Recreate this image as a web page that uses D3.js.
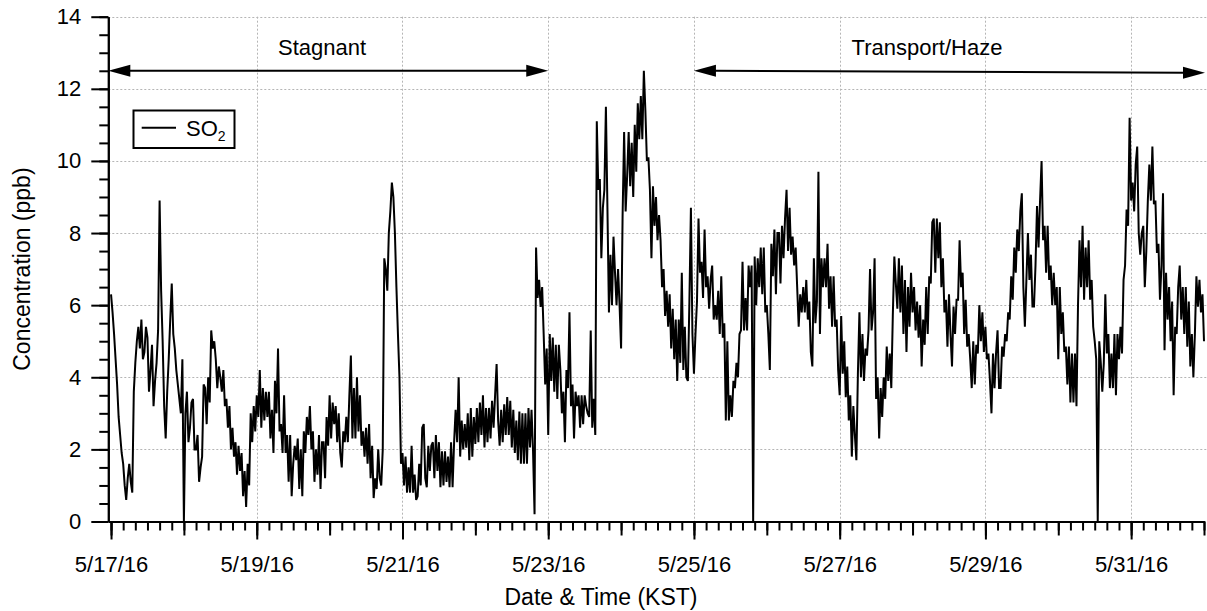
<!DOCTYPE html>
<html>
<head>
<meta charset="utf-8">
<script src="https://cdn.jsdelivr.net/npm/d3@7"></script>
<style>
  html, body { margin: 0; padding: 0; background: #fff; }
  svg text { font-family: "Liberation Sans", Arial, Helvetica, sans-serif; fill: #000; }
</style>
</head>
<body>
<svg id="chart" width="1207" height="611"></svg>
<script>
// SO2 record (ppb), first sample 2016-05-17 00:00 KST.
// Readings on the hour and on the half hour are kept in two lists.
const seriesStart = Date.UTC(2016, 4, 17, 0, 0);

const so2OnHour = [
  6.3, 5.2, 3.8, 2.4, 1.6, 0.6, 1.6, 0.8, 4.4, 5.4,
  5.6, 4.7, 5.1, 4.2, 3.2, 4.4, 8.9, 5.0, 2.3, 4.5,
  6.6, 4.8, 3.8, 3.0, 0.0, 3.6, 2.6, 3.4, 2.0, 1.1,
  1.8, 3.7, 4.0, 5.3, 5.0, 3.7, 4.0, 4.2, 3.4, 3.2,
  2.6, 2.2, 2.1, 1.9, 1.4, 1.6, 3.0, 3.2, 3.5, 4.2,
  3.7, 3.6, 3.6, 3.1, 3.9, 4.8, 2.7, 3.5, 2.4, 2.4,
  1.6, 1.7, 0.9, 0.7, 1.9, 2.4, 2.0, 1.1, 1.3, 0.9,
  2.2, 2.9, 3.5, 3.3, 3.2, 3.0, 1.5, 2.2, 2.2, 4.6,
  3.7, 4.0, 3.5, 2.5, 2.6, 2.7, 2.1, 1.2, 2.0, 1.0,
  7.3, 6.4, 8.6, 9.0, 6.5, 4.0, 1.9, 1.8, 1.5, 2.1,
  1.3, 0.7, 1.0, 2.7, 0.95, 1.4, 2.2, 2.4, 2.2, 1.95,
  1.95, 1.8, 2.2, 2.2, 2.2, 1.8, 2.0, 2.05, 1.7, 1.8,
  2.15, 2.2, 2.4, 2.05, 2.2, 2.3, 2.6, 4.37, 2.1, 2.2,
  2.4, 2.4, 2.05, 1.9, 1.7, 1.6, 1.6, 1.6, 2.05, 1.95,
  7.6, 6.7, 6.5, 3.8, 2.4, 3.9, 3.6, 3.4, 4.2, 3.6,
  4.2, 5.8, 3.8, 3.6, 3.5, 3.5, 3.5, 3.0, 5.3, 3.4,
  11.1, 9.5, 8.7, 11.5, 5.8, 6.0, 6.9, 7.0, 4.8, 10.8,
  9.6, 9.3, 9.0, 9.7, 10.6, 10.6, 11.4, 10.1, 7.3, 8.2,
  7.8, 7.8, 7.0, 6.4, 6.3, 5.9, 5.6, 5.6, 6.9, 5.4,
  3.9, 8.7, 4.1, 6.1, 6.9, 6.2, 6.5, 5.9, 7.1, 6.0,
  6.4, 6.8, 5.5, 5.0, 3.5, 3.9, 4.4, 5.2, 7.2, 6.2,
  7.1, 7.1, 7.35, 7.3, 7.6, 7.6, 6.0, 4.2, 6.8, 6.3,
  8.0, 8.2, 8.4, 7.5, 7.4, 7.1, 6.5, 6.3, 6.5, 6.7,
  6.1, 4.3, 5.5, 9.7, 7.3, 7.3, 7.7, 6.8, 6.8, 5.6,
  3.5, 4.1, 3.45, 2.8, 1.8, 2.4, 4.1, 4.0, 3.9, 4.6,
  7.0, 5.8, 3.4, 2.3, 2.9, 3.4, 3.9, 3.7, 7.35, 5.9,
  5.8, 5.2, 4.7, 5.4, 5.8, 5.3, 5.1, 4.3, 4.9, 5.2,
  6.6, 8.4, 8.4, 8.3, 7.3, 6.15, 6.3, 4.3, 5.2, 6.15,
  6.5, 5.2, 4.85, 4.5, 5.0, 4.9, 6.0, 5.8, 5.4, 4.66,
  3.0, 3.7, 5.3, 3.7, 4.57, 5.0, 5.6, 6.15, 6.9, 7.5,
  9.1, 5.4, 8.0, 7.4, 5.96, 8.75, 8.9, 7.8, 6.9, 6.7,
  6.0, 6.0, 4.5, 5.2, 4.7, 3.8, 3.3, 3.3, 3.2, 7.8,
  8.2, 7.6, 7.8, 6.7, 5.0, 0.0, 4.4, 4.4, 4.66, 3.7,
  3.7, 3.5, 4.5, 4.66, 7.1, 8.2, 8.9, 8.6, 10.4, 7.4,
  8.2, 7.5, 9.9, 10.4, 8.9, 7.7, 7.1, 4.75, 5.6, 5.0,
  3.5, 5.2, 7.1, 6.5, 6.5, 6.1, 5.2, 5.2, 5.96, 5.8,
  5.0
];

const so2HalfHour = [
  5.8, 4.5, 2.9, 1.9, 1.0, 1.2, 1.1, 3.6, 5.0, 4.8,
  4.5, 5.4, 3.6, 4.9, 3.9, 5.3, 6.4, 3.2, 3.6, 5.6,
  5.2, 4.2, 3.4, 4.5, 3.0, 2.2, 3.3, 2.0, 2.4, 1.5,
  3.8, 2.7, 3.3, 4.8, 4.5, 4.3, 3.6, 3.2, 2.6, 2.0,
  1.8, 1.3, 1.4, 0.7, 0.4, 1.0, 2.2, 2.5, 2.9, 2.6,
  2.8, 2.9, 2.3, 1.9, 3.0, 2.5, 1.9, 1.9, 1.1, 0.7,
  2.1, 2.3, 2.0, 2.5, 2.9, 3.2, 2.5, 2.0, 2.4, 2.2,
  1.2, 2.1, 2.3, 2.7, 2.2, 1.9, 2.5, 2.9, 3.5, 2.3,
  2.3, 2.5, 2.1, 1.8, 1.6, 1.2, 0.65, 0.9, 1.2, 2.0,
  7.0, 8.0, 9.4, 8.0, 5.2, 1.6, 1.0, 0.8, 0.8, 0.8,
  0.6, 1.6, 2.6, 1.2, 2.1, 2.1, 1.2, 1.4, 0.95, 1.0,
  1.1, 0.95, 0.95, 3.1, 4.0, 2.8, 2.7, 3.0, 3.15, 2.9,
  3.15, 3.3, 3.5, 3.15, 3.15, 3.35, 3.5, 2.8, 3.1, 3.25,
  3.45, 3.35, 3.1, 2.8, 3.05, 3.0, 3.0, 3.15, 3.1, 0.2,
  6.2, 5.95, 5.2, 4.8, 5.2, 5.1, 4.9, 4.9, 3.0, 2.2,
  3.7, 3.2, 2.3, 3.2, 2.6, 2.7, 3.2, 2.9, 2.6, 2.4,
  9.2, 7.3, 9.2, 8.7, 7.4, 7.9, 6.0, 6.0, 8.5, 8.6,
  10.8, 10.5, 11.0, 11.6, 11.8, 12.5, 10.0, 9.2, 9.3, 9.0,
  8.5, 6.5, 5.7, 5.4, 4.8, 4.5, 3.9, 4.4, 4.2, 4.0,
  6.1, 5.2, 5.2, 8.4, 7.2, 8.1, 6.8, 6.7, 5.6, 5.6,
  5.2, 5.1, 2.8, 2.8, 2.9, 3.7, 4.0, 5.3, 5.3, 5.3,
  6.5, 0.0, 6.0, 6.5, 6.3, 5.8, 5.2, 7.7, 8.1, 8.0,
  6.6, 7.3, 9.2, 8.7, 7.9, 7.6, 5.4, 5.8, 5.8, 5.6,
  4.7, 7.3, 6.1, 5.2, 6.5, 6.5, 5.9, 5.4, 5.4, 4.2,
  5.7, 5.0, 4.3, 3.5, 3.2, 1.7, 5.8, 5.2, 4.8, 5.3,
  5.3, 7.3, 4.0, 3.7, 4.0, 4.85, 4.66, 5.7, 6.6, 7.3,
  7.1, 6.7, 6.5, 6.9, 6.5, 6.1, 6.0, 5.6, 6.5, 6.8,
  8.3, 6.9, 7.3, 6.5, 5.8, 4.85, 5.2, 5.96, 6.15, 7.8,
  6.9, 6.15, 5.2, 3.7, 3.8, 4.66, 5.0, 4.7, 4.5, 3.9,
  4.66, 4.66, 3.7, 4.85, 5.2, 5.8, 6.8, 7.6, 8.1, 8.6,
  6.5, 6.7, 6.7, 5.96, 7.1, 7.6, 10.0, 8.2, 8.2, 7.1,
  6.9, 6.5, 6.5, 5.8, 4.85, 4.85, 4.66, 4.66, 6.0, 6.5,
  6.15, 6.5, 6.15, 5.4, 4.5, 5.0, 3.6, 6.3, 5.2, 4.66,
  5.2, 5.2, 5.4, 6.7, 8.65, 11.2, 9.4, 9.9, 8.0, 8.0,
  6.5, 8.9, 8.9, 8.8, 7.45, 6.15, 9.1, 6.9, 6.5, 6.1,
  5.4, 6.5, 5.6, 5.2, 4.85, 4.3, 4.0, 6.8, 6.7, 6.3
];

// Axis ticks
const yTicks = [0, 2, 4, 6, 8, 10, 12, 14];
const xLabelDays = ["2016-05-17", "2016-05-19", "2016-05-21", "2016-05-23",
                    "2016-05-25", "2016-05-27", "2016-05-29", "2016-05-31"];

// Meteorological periods marked with double arrows
const periodLabels = ["Stagnant", "Transport/Haze"];
const periodStarts = [null, "2016-05-25"];   // null: from the start of the axis
const periodEnds   = ["2016-05-23", null];   // null: to the end of the axis
const periodLevel  = 12.5;

const legendLabel = "SO";
const legendSub = "2";

const parseDay = s => new Date(s + "T00:00:00Z");
const hour = 3600 * 1000;

const svg = d3.select("#chart");

const x = d3.scaleUtc()
  .domain([new Date(seriesStart - 0.9 * hour), new Date(seriesStart + 360 * hour)])
  .range([108.3, 1204]);
const y = d3.scaleLinear().domain([0, 14]).range([521.5, 16.7]);

const [x0, x1] = x.range();
const [yb, yt] = y.range();

// Dotted grid
const grid = svg.append("g")
  .attr("stroke", "#b5b5b5")
  .attr("stroke-width", 1)
  .attr("stroke-dasharray", "2,2");
grid.selectAll("line.h").data(yTicks.filter(v => v > 0)).join("line")
  .attr("x1", x0).attr("x2", 1207)
  .attr("y1", d => Math.round(y(d)) + 0.5).attr("y2", d => Math.round(y(d)) + 0.5);
grid.selectAll("line.v").data(xLabelDays.slice(1).map(parseDay)).join("line")
  .attr("x1", d => Math.round(x(d)) + 0.5).attr("x2", d => Math.round(x(d)) + 0.5)
  .attr("y1", yt).attr("y2", yb);

// Interleave hourly and half-hourly readings into one time series
const data = [];
so2OnHour.forEach((v, i) => {
  data.push({ t: new Date(seriesStart + i * hour), v });
  if (i < so2HalfHour.length) {
    data.push({ t: new Date(seriesStart + (i + 0.5) * hour), v: so2HalfHour[i] });
  }
});

const line = d3.line()
  .defined(d => d.v != null)
  .x(d => x(d.t))
  .y(d => y(d.v));
svg.append("path")
  .datum(data)
  .attr("fill", "none")
  .attr("stroke", "#000")
  .attr("stroke-width", 2)
  .attr("stroke-linejoin", "miter")
  .attr("stroke-miterlimit", 2)
  .attr("d", line);

// Axes
function styleAxis(g) {
  g.selectAll("path.domain").attr("stroke", "#000").attr("stroke-width", 2);
  g.selectAll(".tick line").attr("stroke", "#000").attr("stroke-width", 2);
  g.selectAll(".tick text").attr("font-size", 22).attr("fill", "#000")
    .attr("font-family", '"Liberation Sans", Arial, Helvetica, sans-serif');
}

// y minor ticks every 0.5 ppb
svg.append("g").attr("transform", `translate(${x0},0)`)
  .call(d3.axisLeft(y).tickValues(d3.range(0, 14.001, 0.5)).tickSize(9).tickSizeOuter(0).tickFormat(""))
  .call(styleAxis);
svg.append("g").attr("transform", `translate(${x0},0)`)
  .call(d3.axisLeft(y).tickValues(yTicks).tickSize(17).tickSizeOuter(0).tickPadding(10).tickFormat(d3.format("d")))
  .call(styleAxis);

// x ticks: 4-hour minor, daily medium, two-day labelled
const fmtDate = d => `${d.getUTCMonth() + 1}/${d.getUTCDate()}/${String(d.getUTCFullYear()).slice(2)}`;
const xEnd = x.domain()[1];
const fourHourly = d3.utcHour.every(4).range(new Date(seriesStart), new Date(+xEnd + 1));
const daily = d3.utcDay.range(new Date(seriesStart), new Date(+xEnd + 1));

svg.append("g").attr("transform", `translate(0,${yb})`)
  .call(d3.axisBottom(x).tickValues(fourHourly).tickSize(9).tickSizeOuter(0).tickFormat(""))
  .call(styleAxis);
svg.append("g").attr("transform", `translate(0,${yb})`)
  .call(d3.axisBottom(x).tickValues(daily).tickSize(14).tickSizeOuter(0).tickFormat(""))
  .call(styleAxis);
svg.append("g").attr("transform", `translate(0,${yb})`)
  .call(d3.axisBottom(x).tickValues(xLabelDays.map(parseDay)).tickSize(18).tickSizeOuter(0)
        .tickPadding(17).tickFormat(fmtDate))
  .call(styleAxis);

// Axis titles
svg.append("text")
  .attr("transform", `translate(30,${(yt + yb) / 2}) rotate(-90)`)
  .attr("text-anchor", "middle")
  .attr("font-size", 23)
  .text("Concentration (ppb)");
svg.append("text")
  .attr("x", 601).attr("y", 605)
  .attr("text-anchor", "middle")
  .attr("font-size", 23)
  .text("Date & Time (KST)");

// Period arrows
const headLen = 22, headHalf = 6;
periodLabels.forEach((label, i) => {
  const xa = periodStarts[i] ? x(parseDay(periodStarts[i])) : x0;
  const xb = periodEnds[i] ? x(parseDay(periodEnds[i])) : x1 + 1;
  const ya = y(periodLevel);
  const yb2 = i === 1 ? ya + 2 : ya;
  const g = svg.append("g");
  g.append("line")
    .attr("x1", xa + headLen - 2).attr("y1", ya)
    .attr("x2", xb - headLen + 2).attr("y2", yb2)
    .attr("stroke", "#000").attr("stroke-width", 2);
  g.append("path").attr("fill", "#000")
    .attr("d", `M${xa},${ya}L${xa + headLen},${ya - headHalf}L${xa + headLen},${ya + headHalf}Z`);
  g.append("path").attr("fill", "#000")
    .attr("d", `M${xb},${yb2}L${xb - headLen},${yb2 - headHalf}L${xb - headLen},${yb2 + headHalf}Z`);
  g.append("text")
    .attr("x", i === 0 ? 322 : 927)
    .attr("y", 54.5)
    .attr("text-anchor", "middle")
    .attr("font-size", 22)
    .text(label);
});

// Legend
const lg = svg.append("g");
lg.append("rect")
  .attr("x", 133.5).attr("y", 110.5).attr("width", 101).attr("height", 37.5)
  .attr("fill", "#fff").attr("stroke", "#000").attr("stroke-width", 2);
lg.append("line")
  .attr("x1", 141.7).attr("x2", 176).attr("y1", 127.7).attr("y2", 127.7)
  .attr("stroke", "#000").attr("stroke-width", 2);
const lt = lg.append("text").attr("x", 186).attr("y", 135.5).attr("font-size", 22);
lt.append("tspan").text(legendLabel);
lt.append("tspan").attr("font-size", 14).attr("dy", 5).text(legendSub);
</script>
</body>
</html>
